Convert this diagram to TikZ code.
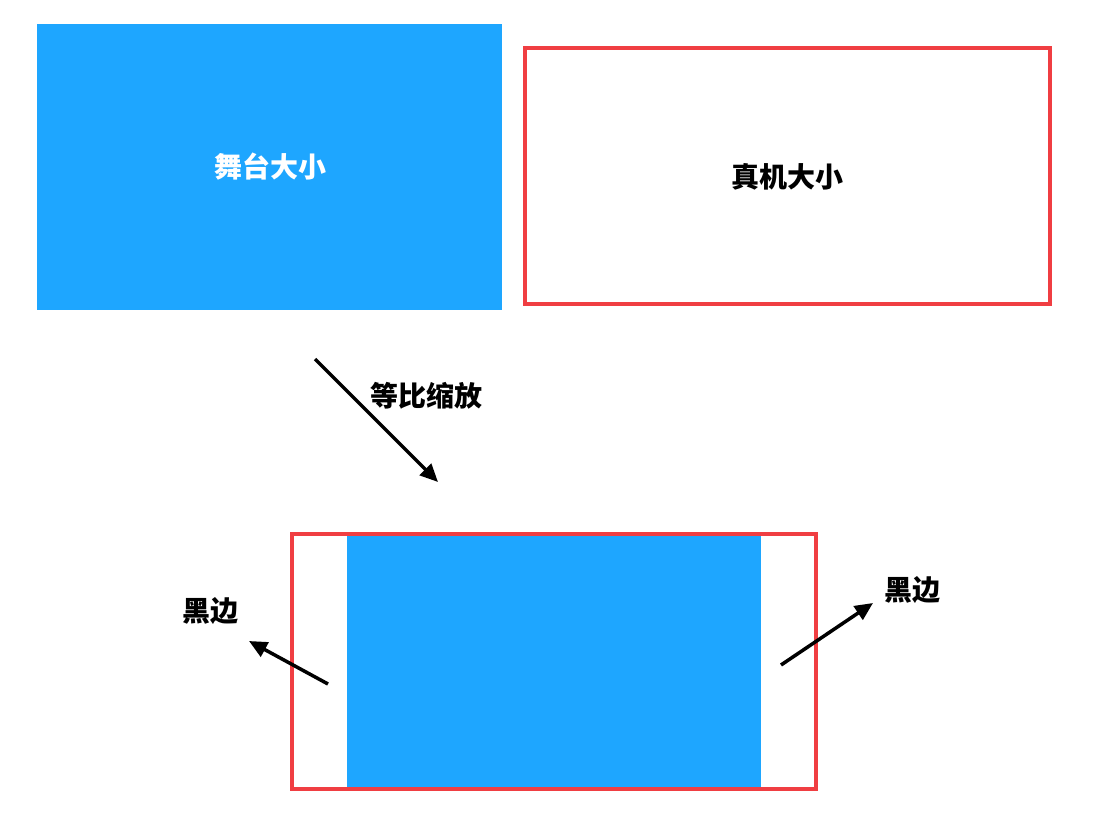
\documentclass[tikz,border=0pt]{standalone}
\usepackage{fontspec}
\usetikzlibrary{arrows.meta}
\newfontfamily\cjk{Noto Sans CJK SC}
\definecolor{stageblue}{RGB}{30,166,255}
\definecolor{framered}{RGB}{240,62,66}

\begin{document}
\begin{tikzpicture}[x=1pt,y=1pt,yscale=-1,xscale=1,
		blockfill/.style={fill=stageblue, inner sep=0pt},
		redframe/.style={draw=framered, line width=4pt, inner sep=0pt},
		tag/.style={font=\cjk\bfseries\fontsize{28}{33}\selectfont, inner sep=0.75pt},
		pointer/.style={line width=3.5pt, -{Triangle[length=18pt,width=16pt]}}]
		\useasboundingbox (0,0) rectangle (1100,816);

		% Stage size, blue block top left
		\node[blockfill, minimum width=465pt, minimum height=286pt] (stage) at (269.5,167) {};
		\node[tag, text=white] (stagetext) at (270,167) {舞台大小};

		% Device size, red frame top right
		\node[redframe, minimum width=525pt, minimum height=256pt] (device) at (787.5,176) {};
		\node[tag] (devicetext) at (787,177) {真机大小};

		% Scaled arrow and its label
		\coordinate (scalefrom) at (315,359);
		\coordinate (scaleto) at (438,482);
		\draw[pointer] (scalefrom) -- (scaleto);
		\node[tag] (scaletext) at (426,396) {等比缩放};

		% Scaled stage inside the device frame
		\node[blockfill, minimum width=414pt, minimum height=253pt] (scaled) at (554,662.5) {};
		\node[redframe, minimum width=524pt, minimum height=255pt] (screen) at (554,661.5) {};

		% Black bars, left and right
		\coordinate (leftfrom) at (328,684);
		\coordinate (leftto) at (249,641);
		\draw[pointer] (leftfrom) -- (leftto);
		\node[tag] (lefttext) at (210.5,611) {黑边};

		\coordinate (rightfrom) at (781,665);
		\coordinate (rightto) at (873,603);
		\draw[pointer] (rightfrom) -- (rightto);
		\node[tag] (righttext) at (912,590) {黑边};
	\end{tikzpicture}
\end{document}
